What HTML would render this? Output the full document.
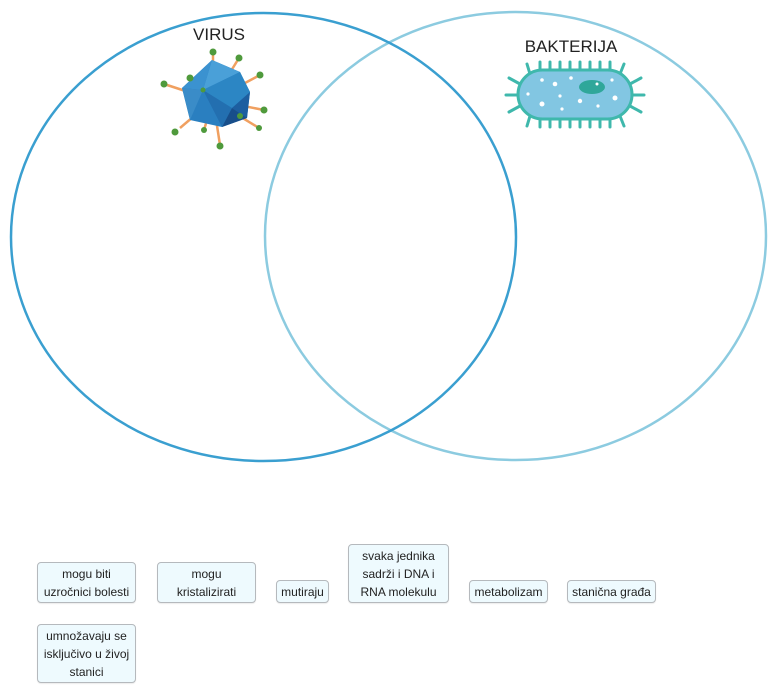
<!DOCTYPE html>
<html><head><meta charset="utf-8"><style>
html,body{margin:0;padding:0;background:#fff;width:781px;height:695px;overflow:hidden;position:relative;font-family:"Liberation Sans",sans-serif}
.b{position:absolute;box-sizing:border-box;background:#eefafe;border:1px solid #b5b9bd;border-radius:4px;font-size:12px;line-height:18px;color:#222;text-align:center;display:flex;align-items:center;justify-content:center;box-shadow:0 1px 1px rgba(0,0,0,.08)}
</style></head><body>
<svg width="781" height="695" style="position:absolute;left:0;top:0">
<ellipse cx="515.5" cy="236" rx="250.5" ry="224" fill="none" stroke="#8ccbe0" stroke-width="2.5"/>
<ellipse cx="263.5" cy="237" rx="252.5" ry="224" fill="none" stroke="#3a9fd0" stroke-width="2.5"/>
<text x="219" y="40" font-family="Liberation Sans" font-size="17" fill="#222" text-anchor="middle">VIRUS</text>
<text x="571" y="52" font-family="Liberation Sans" font-size="17" fill="#222" text-anchor="middle">BAKTERIJA</text>
<!-- virus -->
<g stroke="#f0a060" stroke-width="2.5">
<line x1="213" y1="100" x2="213" y2="52"/><line x1="213" y1="100" x2="239" y2="58"/><line x1="213" y1="100" x2="260" y2="75"/>
<line x1="213" y1="100" x2="264" y2="110"/><line x1="213" y1="100" x2="259" y2="128"/><line x1="213" y1="100" x2="220" y2="145"/>
<line x1="213" y1="100" x2="204" y2="130"/><line x1="213" y1="100" x2="180" y2="128"/><line x1="213" y1="100" x2="164" y2="84"/>
<line x1="213" y1="100" x2="190" y2="78"/>
</g>
<polygon points="212,60 240,72 250,92 247,118 222,127 190,120 182,88" fill="#2a7fc0"/>
<polygon points="212,60 240,72 203,90" fill="#4aa0d8"/>
<polygon points="182,88 212,60 203,90" fill="#3b92d0"/>
<polygon points="203,90 240,72 250,92 232,108" fill="#2c86c4"/>
<polygon points="250,92 247,118 232,108" fill="#1d5ea0"/>
<polygon points="203,90 232,108 222,127" fill="#236fb0"/>
<polygon points="182,88 203,90 190,120" fill="#3a8cc8"/>
<polygon points="247,118 222,127 232,108" fill="#184e8a"/>
<g fill="#4f9a3c">
<circle cx="213" cy="52" r="3.5"/><circle cx="239" cy="58" r="3.5"/><circle cx="260" cy="75" r="3.5"/><circle cx="264" cy="110" r="3.5"/>
<circle cx="259" cy="128" r="3"/><circle cx="220" cy="146" r="3.5"/><circle cx="204" cy="130" r="3"/><circle cx="175" cy="132" r="3.5"/>
<circle cx="164" cy="84" r="3.5"/><circle cx="190" cy="78" r="3.5"/><circle cx="203" cy="90" r="2.5"/><circle cx="240" cy="116" r="3"/>
</g>
<!-- bacterium -->
<g stroke="#3fb8ac" stroke-width="3" stroke-linecap="round">
<line x1="530" y1="74" x2="527" y2="64"/><line x1="540" y1="71" x2="540" y2="62"/><line x1="550" y1="71" x2="550" y2="62"/><line x1="560" y1="71" x2="560" y2="62"/><line x1="570" y1="71" x2="570" y2="62"/><line x1="580" y1="71" x2="580" y2="62"/><line x1="590" y1="71" x2="590" y2="62"/><line x1="600" y1="71" x2="600" y2="62"/><line x1="610" y1="71" x2="610" y2="62"/><line x1="620" y1="74" x2="624" y2="64"/>
<line x1="530" y1="116" x2="527" y2="126"/><line x1="540" y1="118" x2="540" y2="127"/><line x1="550" y1="118" x2="550" y2="127"/><line x1="560" y1="118" x2="560" y2="127"/><line x1="570" y1="118" x2="570" y2="127"/><line x1="580" y1="118" x2="580" y2="127"/><line x1="590" y1="118" x2="590" y2="127"/><line x1="600" y1="118" x2="600" y2="127"/><line x1="610" y1="118" x2="610" y2="127"/><line x1="620" y1="116" x2="624" y2="126"/>
<line x1="520" y1="84" x2="509" y2="78"/><line x1="518" y1="95" x2="506" y2="95"/><line x1="520" y1="106" x2="509" y2="112"/>
<line x1="630" y1="84" x2="641" y2="78"/><line x1="632" y1="95" x2="644" y2="95"/><line x1="630" y1="106" x2="641" y2="112"/>
</g>
<rect x="518" y="70" width="114" height="49" rx="24.5" fill="#82c6e2" stroke="#3fb8ac" stroke-width="3"/>
<ellipse cx="592" cy="87" rx="13" ry="7" fill="#2fa79a"/>
<g fill="#fff"><circle cx="542" cy="80" r="1.8"/><circle cx="555" cy="84" r="2.3"/><circle cx="571" cy="78" r="1.8"/><circle cx="528" cy="94" r="1.6"/><circle cx="560" cy="96" r="1.6"/><circle cx="542" cy="104" r="2.5"/><circle cx="562" cy="109" r="1.6"/><circle cx="580" cy="101" r="2.2"/><circle cx="598" cy="106" r="1.6"/><circle cx="615" cy="98" r="2.5"/><circle cx="612" cy="80" r="1.6"/><circle cx="597" cy="84" r="1.5"/></g>
</svg>
<div class="b" style="left:37px;top:562px;width:99px;height:41px">mogu biti<br>uzročnici bolesti</div>
<div class="b" style="left:157px;top:562px;width:99px;height:41px">mogu<br>kristalizirati</div>
<div class="b" style="left:276px;top:580px;width:53px;height:23px">mutiraju</div>
<div class="b" style="left:348px;top:544px;width:101px;height:59px">svaka jednika<br>sadrži i DNA i<br>RNA molekulu</div>
<div class="b" style="left:469px;top:580px;width:79px;height:23px">metabolizam</div>
<div class="b" style="left:567px;top:580px;width:89px;height:23px">stanična građa</div>
<div class="b" style="left:37px;top:624px;width:99px;height:59px">umnožavaju se<br>isključivo u živoj<br>stanici</div>
</body></html>
